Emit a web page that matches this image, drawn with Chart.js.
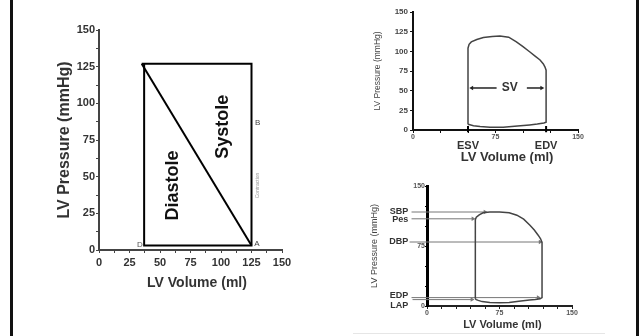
<!DOCTYPE html>
<html><head><meta charset="utf-8">
<script src="https://cdn.jsdelivr.net/npm/chart.js@4/dist/chart.umd.min.js"></script>
<style>
html,body{margin:0;padding:0;background:#fff;}
body{width:644px;height:336px;position:relative;overflow:hidden;font-family:"Liberation Sans",Arial,sans-serif;}
canvas{position:absolute;}
.frame{position:absolute;top:0;width:3px;height:336px;background:#111;}
</style></head><body>
<div class="frame" style="left:10px"></div>
<div class="frame" style="left:636px"></div>
<div style="position:absolute;left:353px;top:333px;width:252px;height:1px;background:#e6e6e6"></div>
<canvas id="c1" width="330" height="336" style="left:0;top:0"></canvas>
<canvas id="c2" width="314" height="170" style="left:330px;top:0"></canvas>
<canvas id="c3" width="314" height="166" style="left:330px;top:170px"></canvas>
<script>
// ---------- Left chart: idealised pressure-volume box ----------
const leftXLabels = [0, 25, 50, 75, 100, 125, 150];
const leftYLabels = [0, 25, 50, 75, 100, 125, 150];
const boxVolume   = [37, 37, 125, 125, 35];
const boxPressure = [127, 3, 3, 127, 127];
const diagVolume   = [35, 125];
const diagPressure = [127, 3];

// ---------- Top right: PV loop with SV ----------
const topXLabels = [0, 75, 150];
const topYLabels = [0, 25, 50, 75, 100, 125, 150];
const topLoopVolume   = [50, 50, 51, 53, 58, 64, 72, 79, 87, 94, 100, 106, 111, 115.5, 118.5, 120, 121, 121, 119, 113, 106, 95, 82, 70, 61, 55, 51, 50];
const topLoopPressure = [7, 104, 109, 112, 115, 117.5, 119, 119.5, 118, 112, 106, 99.5, 94, 89, 84, 80, 76, 10, 9, 7.5, 6.5, 5, 3.5, 3.5, 4.5, 5.5, 7, 7];
const svEdgeVolume = [50, 121];            // ESV, EDV
const svEdgeLabels = ['ESV', 'EDV'];
const svArrowLeftVolume  = [76, 53.5];
const svArrowRightVolume = [103.5, 117];
const svArrowPressure    = [53.4, 53.4];

// ---------- Bottom right: PV loop with pressures ----------
const botXLabels = [0, 75, 150];
const botYLabels = [0, 75, 150];
const botLoopVolume   = [50, 50, 51, 54, 58, 65, 75, 85, 93, 100, 106.5, 111, 115, 117.5, 119, 119, 117, 112, 106, 95, 85, 75, 65, 57, 53, 51, 50];
const botLoopPressure = [9, 108, 111, 114, 116.5, 117.5, 117.5, 116.5, 113.5, 108.5, 101, 95, 88.5, 84, 79.5, 10.5, 9, 8, 7.5, 6, 4.5, 4, 4.5, 5.5, 7, 8, 9];
const markerLabels      = ['SBP', 'Pes', 'DBP', 'EDP', 'LAP'];
const markerLabelP      = [117.5, 107.5, 80, 13.5, 0];
const markerVolumes = [
  [-16, 60], [-16, 47.5], [-18, 117], [-19, -16, 115], [-19, -17, -15, 46.5]
];
const markerPressures = [
  [117.5, 117.5], [109, 109], [80, 80], [13, 10.5, 10.5], [1, 6, 8, 8]
];

const FF = "'Liberation Sans', Arial, sans-serif";
Chart.defaults.font.family = FF;
Chart.defaults.animation = false;

function pts(xs, ys) { return xs.map((v, i) => ({x: v, y: ys[i]})); }
function lineDs(xs, ys, color, width, extra) {
  return Object.assign({data: pts(xs, ys), showLine: true, borderColor: color, borderWidth: width,
    pointRadius: 0, fill: false, tension: 0, clip: false}, extra || {});
}
function arrowDs(xs, ys, color, width, rot) {
  const n = xs.length - 1;
  return lineDs(xs, ys, color, width, {pointStyle: 'triangle', rotation: rot,
    pointRadius: c => c.dataIndex === n ? 2.6 : 0, pointBackgroundColor: color,
    pointBorderColor: color, pointBorderWidth: 0});
}
function axis(o) {
  return {
    type: 'linear', min: 0, max: 150,
    afterFit: o.fit,
    border: {display: true, color: o.axisColor, width: o.axisWidth},
    grid: {drawOnChartArea: false, drawTicks: true, tickLength: o.tickLength, tickColor: o.axisColor, tickWidth: 1},
    ticks: {stepSize: o.step, autoSkip: false, maxRotation: 0, padding: o.pad, color: o.tickColor,
      font: o.tickFont, callback: v => o.labels.includes(v) ? String(v) : ''},
    title: o.title || {display: false}
  };
}
function textPlugin(items) {
  return {
    id: 'texts',
    afterDatasetsDraw(chart) {
      const {ctx, scales: {x, y}} = chart;
      items.forEach(it => {
        ctx.save();
        ctx.font = it.font;
        ctx.fillStyle = it.color || '#333';
        ctx.textAlign = it.align || 'center';
        ctx.textBaseline = 'middle';
        ctx.translate(x.getPixelForValue(it.x), y.getPixelForValue(it.y));
        if (it.rot) ctx.rotate(it.rot);
        ctx.fillText(it.text, 0, 0);
        ctx.restore();
      });
    }
  };
}
function baseOptions(padding, xAxis, yAxis) {
  return {
    responsive: false, devicePixelRatio: 1, events: [],
    layout: {padding},
    plugins: {legend: {display: false}, tooltip: {enabled: false}},
    scales: {x: xAxis, y: yAxis}
  };
}

// ---------- Chart 1 ----------
new Chart(document.getElementById('c1'), {
  type: 'scatter',
  data: {datasets: [
    lineDs(boxVolume, boxPressure, '#000', 2),
    lineDs(diagVolume, diagPressure, '#000', 2)
  ]},
  options: baseOptions({left: 0, top: 30, right: 48, bottom: 0},
    axis({fit: s => { s.height = 86; }, axisColor: '#444', axisWidth: 2, tickLength: 3, step: 12.5, pad: 3,
      tickColor: '#333', tickFont: {size: 11, weight: 'bold'}, labels: leftXLabels}),
    axis({fit: s => { s.width = 99; }, axisColor: '#444', axisWidth: 2, tickLength: 3, step: 12.5, pad: 1,
      tickColor: '#333', tickFont: {size: 11, weight: 'bold'}, labels: leftYLabels,
      title: {display: true, text: 'LV Pressure (mmHg)', color: '#333', font: {size: 16, weight: 'bold'}, padding: {top: 55, bottom: 0}}})
  ),
  plugins: [textPlugin([
    {text: 'Diastole', x: 60.7, y: 44, font: 'bold 18px ' + FF, color: '#111', rot: -Math.PI / 2},
    {text: 'Systole', x: 101.6, y: 84, font: 'bold 18px ' + FF, color: '#111', rot: -Math.PI / 2},
    {text: 'LV Volume (ml)', x: 80.3, y: -22.5, font: 'bold 14px ' + FF, color: '#333'},
    {text: 'A', x: 129.5, y: 4, font: '8px ' + FF, color: '#444'},
    {text: 'B', x: 130, y: 86.6, font: '8px ' + FF, color: '#444'},
    {text: 'D', x: 33.5, y: 3.5, font: '8px ' + FF, color: '#555'},
    {text: 'Contraction', x: 130, y: 44, font: '5px ' + FF, color: '#999', rot: -Math.PI / 2}
  ])]
});

// ---------- Chart 2 ----------
const c2sets = [
  lineDs(topLoopVolume, topLoopPressure, '#444', 1.5),
  arrowDs(svArrowLeftVolume, svArrowPressure, '#222', 1.5, 270),
  arrowDs(svArrowRightVolume, svArrowPressure, '#222', 1.5, 90)
];
svEdgeVolume.forEach(v => c2sets.push(lineDs([v, v], [5, -3], '#000', 2)));
new Chart(document.getElementById('c2'), {
  type: 'scatter',
  data: {datasets: c2sets},
  options: baseOptions({left: 0, top: 12, right: 66, bottom: 0},
    axis({fit: s => { s.height = 40; }, axisColor: '#111', axisWidth: 2, tickLength: 3, step: 25, pad: 0,
      tickColor: '#555', tickFont: {size: 7, weight: 'bold'}, labels: topXLabels}),
    axis({fit: s => { s.width = 83; }, axisColor: '#111', axisWidth: 2, tickLength: 3, step: 25, pad: 2,
      tickColor: '#444', tickFont: {size: 8, weight: 'bold'}, labels: topYLabels,
      title: {display: true, text: 'LV Pressure (mmHg)', color: '#444', font: {size: 8.5}, padding: {top: 43, bottom: 0}}})
  ),
  plugins: [textPlugin([
    {text: 'SV', x: 88, y: 53.4, font: 'bold 12px ' + FF, color: '#333'},
    {text: svEdgeLabels[0], x: svEdgeVolume[0], y: -20.3, font: 'bold 11px ' + FF, color: '#333'},
    {text: svEdgeLabels[1], x: svEdgeVolume[1], y: -20.3, font: 'bold 11px ' + FF, color: '#333'},
    {text: 'LV Volume (ml)', x: 85.5, y: -34.3, font: 'bold 13px ' + FF, color: '#333'}
  ])]
});

// ---------- Chart 3 ----------
const c3sets = [lineDs(botLoopVolume, botLoopPressure, '#444', 1.5)];
markerVolumes.forEach((vs, i) => c3sets.push(arrowDs(vs, markerPressures[i], '#777', 1, 90)));
const c3texts = markerLabels.map((t, i) => ({text: t, x: -19.5, y: markerLabelP[i], font: 'bold 9px ' + FF, color: '#333', align: 'right'}));
c3texts.push({text: 'LV Volume (ml)', x: 78, y: -23.75, font: 'bold 11px ' + FF, color: '#333'});
new Chart(document.getElementById('c3'), {
  type: 'scatter',
  data: {datasets: c3sets},
  options: baseOptions({left: 0, top: 16, right: 72, bottom: 0},
    axis({fit: s => { s.height = 30; }, axisColor: '#222', axisWidth: 2, tickLength: 3, step: 15, pad: 0,
      tickColor: '#555', tickFont: {size: 7, weight: 'bold'}, labels: botXLabels}),
    axis({fit: s => { s.width = 97; }, axisColor: '#000', axisWidth: 3, tickLength: 2, step: 25, pad: 0,
      tickColor: '#555', tickFont: {size: 7, weight: 'bold'}, labels: botYLabels,
      title: {display: true, text: 'LV Pressure (mmHg)', color: '#444', font: {size: 9}, padding: {top: 39.6, bottom: 0}}})
  ),
  plugins: [textPlugin(c3texts)]
});
</script>
</body></html>
